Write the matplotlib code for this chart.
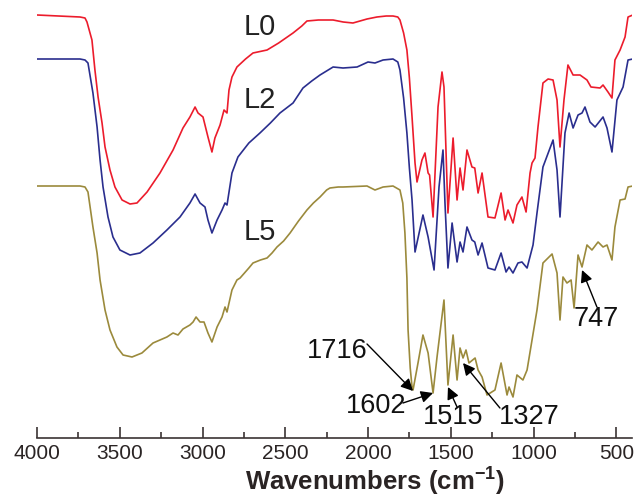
import matplotlib
matplotlib.use("Agg")
import matplotlib.pyplot as plt
from matplotlib.ticker import MultipleLocator

# -----------------------
# Spectra (wavenumber, transmittance a.u.)
# -----------------------
l0_wn = [4000, 3740, 3710, 3698, 3668, 3650, 3631, 3607, 3589, 3559, 3529, 3486, 3438, 3396,
         3335, 3257, 3178, 3118, 3076, 3045, 3027, 2997, 2967, 2943, 2925, 2894, 2870, 2852,
         2840, 2822, 2792, 2740, 2695, 2610, 2540, 2453, 2400, 2369, 2300, 2211, 2150, 2091,
         2006, 1946, 1890, 1849, 1820, 1807, 1785, 1765, 1750, 1734, 1716, 1704, 1674, 1656,
         1637, 1628, 1607, 1577, 1553, 1541, 1517, 1486, 1462, 1444, 1426, 1402, 1372, 1355,
         1335, 1311, 1275, 1233, 1196, 1172, 1154, 1124, 1100, 1070, 1045, 1021, 1009, 991,
         973, 943, 912, 882, 858, 840, 816, 792, 761, 719, 677, 653, 598, 580, 550, 526, 508,
         477, 447, 429, 400]
l0_t = [423, 421, 420, 416, 398, 368, 341, 315, 291, 268, 251, 238, 234, 235,
        246, 265, 288, 310, 321, 331, 325, 321, 301, 286, 300, 313, 328, 325,
        348, 361, 371, 379, 385, 388, 395, 405, 412, 417, 418, 418, 416, 415,
        419, 421, 422, 422, 421, 418, 405, 388, 360, 321, 275, 256, 278, 285,
        265, 263, 221, 331, 366, 351, 225, 300, 238, 270, 248, 288, 271, 270,
        245, 265, 221, 220, 245, 218, 228, 215, 233, 241, 226, 265, 275, 280,
        311, 355, 359, 358, 338, 291, 338, 373, 363, 363, 358, 351, 350, 353, 346, 340, 378,
        388, 401, 421, 423]

l2_wn = [4000, 3740, 3710, 3692, 3662, 3637, 3619, 3601, 3571, 3541, 3499, 3438, 3378, 3299,
         3215, 3136, 3076, 3045, 3015, 2985, 2967, 2943, 2912, 2882, 2864, 2852, 2822, 2786,
         2720, 2653, 2590, 2532, 2453, 2393, 2340, 2290, 2211, 2151, 2066, 2000, 1958, 1909,
         1849, 1820, 1807, 1785, 1765, 1750, 1734, 1716, 1668, 1637, 1601, 1571, 1547, 1535,
         1517, 1492, 1462, 1444, 1426, 1402, 1372, 1355, 1335, 1311, 1275, 1233, 1196, 1166,
         1148, 1124, 1094, 1070, 1039, 1003, 979, 943, 882, 858, 840, 810, 785, 761, 731,
         707, 689, 659, 628, 580, 556, 526, 496, 459, 429, 400]
l2_t = [379, 379, 378, 375, 345, 311, 278, 251, 221, 201, 188, 183, 185, 195,
        208, 221, 235, 244, 235, 231, 218, 205, 218, 228, 235, 233, 265, 281,
        295, 305, 315, 325, 335, 350, 357, 363, 371, 370, 371, 376, 375, 378,
        379, 376, 368, 340, 305, 270, 238, 186, 223, 201, 168, 251, 288, 235,
        170, 215, 176, 196, 186, 211, 198, 196, 183, 195, 170, 168, 185, 166,
        171, 165, 175, 176, 170, 193, 225, 271, 298, 268, 221, 305, 325, 310, 323,
        325, 331, 316, 311, 321, 310, 286, 338, 351, 378, 379]

l5_wn = [4000, 3740, 3710, 3692, 3662, 3637, 3619, 3589, 3559, 3517, 3480, 3426, 3366, 3299,
         3215, 3178, 3148, 3118, 3076, 3057, 3039, 3015, 2991, 2967, 2943, 2912, 2882, 2864,
         2852, 2822, 2792, 2773, 2720, 2695, 2650, 2610, 2580, 2550, 2510, 2471, 2420, 2369,
         2330, 2290, 2250, 2230, 2180, 2151, 2006, 1958, 1909, 1849, 1807, 1790, 1777, 1765,
         1758, 1745, 1734, 1728, 1698, 1668, 1637, 1607, 1583, 1541, 1517, 1486, 1462, 1444,
         1426, 1408, 1390, 1353, 1335, 1311, 1281, 1233, 1196, 1160, 1148, 1124, 1100, 1064,
         1039, 1009, 979, 943, 888, 858, 840, 822, 798, 773, 755, 731, 707, 677, 647, 610,
         580, 556, 526, 508, 477, 447, 429, 400]
l5_t = [252, 252, 251, 246, 211, 185, 158, 128, 108, 91, 83, 81, 85, 95,
        101, 105, 103, 109, 113, 116, 121, 116, 116, 105, 96, 111, 121, 131,
        126, 148, 158, 160, 170, 175, 178, 180, 185, 191, 197, 205, 217, 228,
        235, 241, 248, 250, 251, 251, 252, 248, 251, 252, 248, 235, 205, 160,
        108, 70, 51, 48, 75, 103, 85, 45, 81, 138, 53, 103, 58, 90,
        80, 88, 75, 80, 68, 61, 43, 48, 75, 43, 51, 41, 63, 58,
        68, 98, 128, 175, 184, 165, 118, 161, 155, 158, 130, 183, 171, 193, 188, 196,
        191, 193, 178, 211, 238, 239, 251, 252]

curve_names = ["L0", "L2", "L5"]
curve_label_y = [411, 338, 206]

# peak annotations: label, text pos, arrow start, arrow tip
peak_labels = ["1716", "1602", "1515", "1327", "747"]
peak_text_xy = [(2187, 87), (1952, 32), (1487, 21), (1027, 21), (623, 119)]
peak_start_xy = [(2006, 94), (1789, 35), (1462, 31), (1203, 30), (617, 131)]
peak_tip_xy = [(1728, 47), (1607, 45), (1517, 51), (1426, 75), (707, 168)]

# -----------------------
# Style
# -----------------------
plt.rcParams['font.family'] = ['Liberation Sans', 'DejaVu Sans']
plt.rcParams['mathtext.fontset'] = 'custom'
plt.rcParams['mathtext.rm'] = 'Liberation Sans'
plt.rcParams['mathtext.bf'] = 'Liberation Sans:bold'

axis_col = '#3b3434'

fig = plt.figure(figsize=(6.39, 4.96), dpi=100)
ax = fig.add_axes([37 / 639, 58 / 496, 595 / 639, 433 / 496])

ax.plot(l0_wn, l0_t, color='#ec1c2c', lw=1.2)
ax.plot(l2_wn, l2_t, color='#2a2e8e', lw=1.2)
ax.plot(l5_wn, l5_t, color='#9b8a3c', lw=1.2)

ax.set_xlim(4000, 405)
ax.set_ylim(0, 433)

for name, y in zip(curve_names, curve_label_y):
    ax.text(2653, y, name, fontsize=21, ha='center', va='center', color='#222222')

for lab, txy, sxy, pxy in zip(peak_labels, peak_text_xy, peak_start_xy, peak_tip_xy):
    ax.text(txy[0], txy[1], lab, fontsize=19.5, ha='center', va='center', color='#111111')
    ax.annotate('', xy=pxy, xytext=sxy,
                arrowprops=dict(arrowstyle='-|>', color='black', lw=1.0,
                                mutation_scale=18, shrinkA=0, shrinkB=0))

# -----------------------
# Axes
# -----------------------
for s in ['left', 'right', 'top']:
    ax.spines[s].set_visible(False)
ax.spines['bottom'].set_color(axis_col)
ax.spines['bottom'].set_linewidth(1.2)
ax.set_yticks([])
ax.xaxis.set_major_locator(MultipleLocator(500))
ax.xaxis.set_minor_locator(MultipleLocator(250))
ax.tick_params(axis='x', which='major', direction='in', length=8, width=1.2,
               color=axis_col, labelsize=15, labelcolor='#2a2424', pad=4)
ax.tick_params(axis='x', which='minor', direction='in', length=4, width=1.2, color=axis_col)
ax.set_xlabel(r"Wavenumbers (cm$^{\mathbf{-1}}$)", fontsize=18.5, fontweight='bold',
              color='#2a2424')
ax.xaxis.set_label_coords((375 - 37) / 595, -(464 - 438) / 433)

plt.savefig("out.png", dpi=100)
